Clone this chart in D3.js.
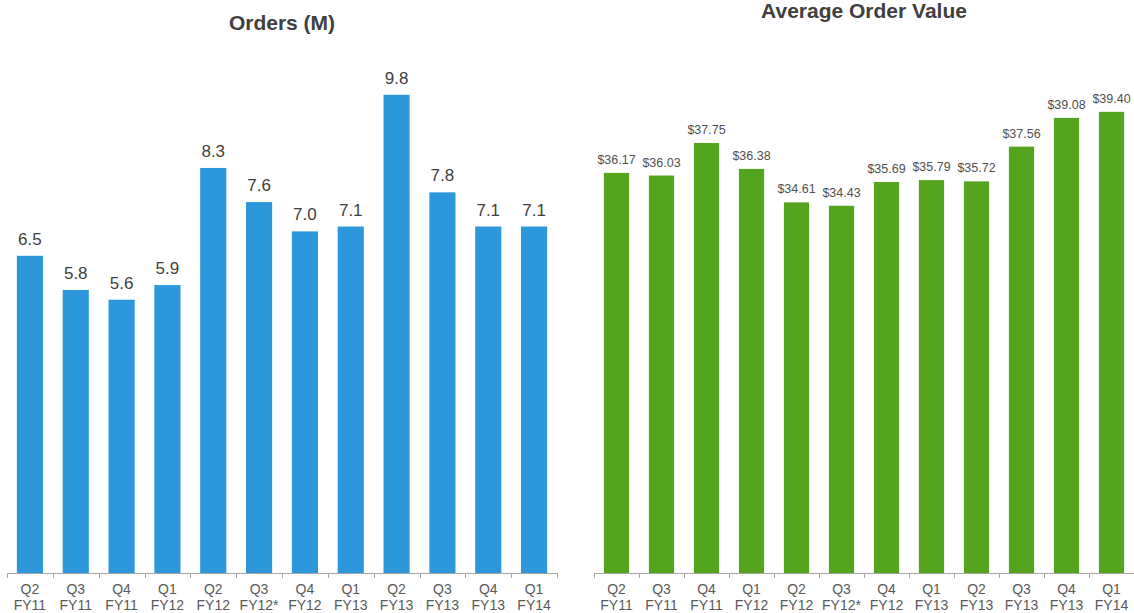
<!DOCTYPE html>
<html lang="en">
<head>
  <meta charset="UTF-8" />
  <title>Orders and Average Order Value</title>
  <script src="https://d3js.org/d3.v7.min.js"></script>
  <style>
    body {
      margin: 0;
      background: #fff;
      font-family: "Liberation Sans", Arial, sans-serif;
      overflow: hidden;
    }
    svg { display: block; }
    .title { font-weight: bold; font-size: 21px; fill: #404040; }
    .tick-label { font-size: 14px; fill: #595959; }
    .axis-line { stroke: #a6a6a6; stroke-width: 1px; fill: none; }
  </style>
</head>
<body>
  <svg width="1134" height="613"></svg>
  <script>
    const quarters = ["Q2", "Q3", "Q4", "Q1", "Q2", "Q3", "Q4", "Q1", "Q2", "Q3", "Q4", "Q1"];
    const fiscalYears = ["FY11", "FY11", "FY11", "FY12", "FY12", "FY12*", "FY12", "FY13", "FY13", "FY13", "FY13", "FY14"];
    const orders = [6.5, 5.8, 5.6, 5.9, 8.3, 7.6, 7.0, 7.1, 9.8, 7.8, 7.1, 7.1];
    const avgOrderValue = [36.17, 36.03, 37.75, 36.38, 34.61, 34.43, 35.69, 35.79, 35.72, 37.56, 39.08, 39.40];

    const svg = d3.select("svg");
    const baseline = 573;

    function drawPanel(opts) {
      const g = svg.append("g");
      const idx = d3.range(opts.values.length);

      const x = d3.scaleBand()
        .domain(idx)
        .range([opts.x0, opts.x1])
        .paddingInner(opts.pad)
        .paddingOuter(opts.pad / 2);

      const y = d3.scaleLinear()
        .domain(opts.domain)
        .range([baseline, opts.top]);

      g.append("text")
        .attr("class", "title")
        .attr("x", (opts.x0 + opts.x1) / 2)
        .attr("y", opts.titleY)
        .attr("text-anchor", "middle")
        .text(opts.title);

      g.append("g")
        .selectAll("rect")
        .data(idx)
        .join("rect")
        .attr("x", i => x(i))
        .attr("y", i => y(opts.values[i]))
        .attr("width", x.bandwidth())
        .attr("height", i => baseline - y(opts.values[i]))
        .attr("fill", opts.color);

      g.append("g")
        .selectAll("text")
        .data(idx)
        .join("text")
        .attr("x", i => x(i) + x.bandwidth() / 2)
        .attr("y", i => y(opts.values[i]) - opts.labelGap)
        .attr("text-anchor", "middle")
        .attr("font-size", opts.labelSize)
        .attr("fill", opts.labelColor)
        .text(i => opts.format(opts.values[i]));

      // axis line with ticks at band boundaries
      g.append("line")
        .attr("class", "axis-line")
        .attr("x1", opts.x0).attr("x2", opts.x1)
        .attr("y1", baseline + 0.5).attr("y2", baseline + 0.5);

      g.append("g")
        .selectAll("line")
        .data(d3.range(idx.length + 1))
        .join("line")
        .attr("class", "axis-line")
        .attr("x1", i => Math.round(opts.x0 + i * x.step()) + 0.5)
        .attr("x2", i => Math.round(opts.x0 + i * x.step()) + 0.5)
        .attr("y1", baseline)
        .attr("y2", baseline + 5);

      const labels = g.append("g")
        .selectAll("text")
        .data(idx)
        .join("text")
        .attr("class", "tick-label")
        .attr("text-anchor", "middle")
        .attr("x", i => x(i) + x.bandwidth() / 2);

      labels.append("tspan")
        .attr("x", i => x(i) + x.bandwidth() / 2)
        .attr("y", 594)
        .text(i => quarters[i]);

      labels.append("tspan")
        .attr("x", i => x(i) + x.bandwidth() / 2)
        .attr("y", 610)
        .text(i => fiscalYears[i]);
    }

    drawPanel({
      title: "Orders (M)",
      titleY: 30,
      values: orders,
      x0: 7, x1: 557,
      pad: 0.43,
      domain: [0, 10],
      top: 85,
      color: "#2c97da",
      labelGap: 11,
      labelSize: "17px",
      labelColor: "#404040",
      format: d => d.toFixed(1)
    });

    drawPanel({
      title: "Average Order Value",
      titleY: 18,
      values: avgOrderValue,
      x0: 594, x1: 1134,
      pad: 0.44,
      domain: [15, 40],
      top: 100.5,
      color: "#55a41d",
      labelGap: 9,
      labelSize: "12.5px",
      labelColor: "#505050",
      format: d => "$" + d.toFixed(2)
    });
  </script>
</body>
</html>
